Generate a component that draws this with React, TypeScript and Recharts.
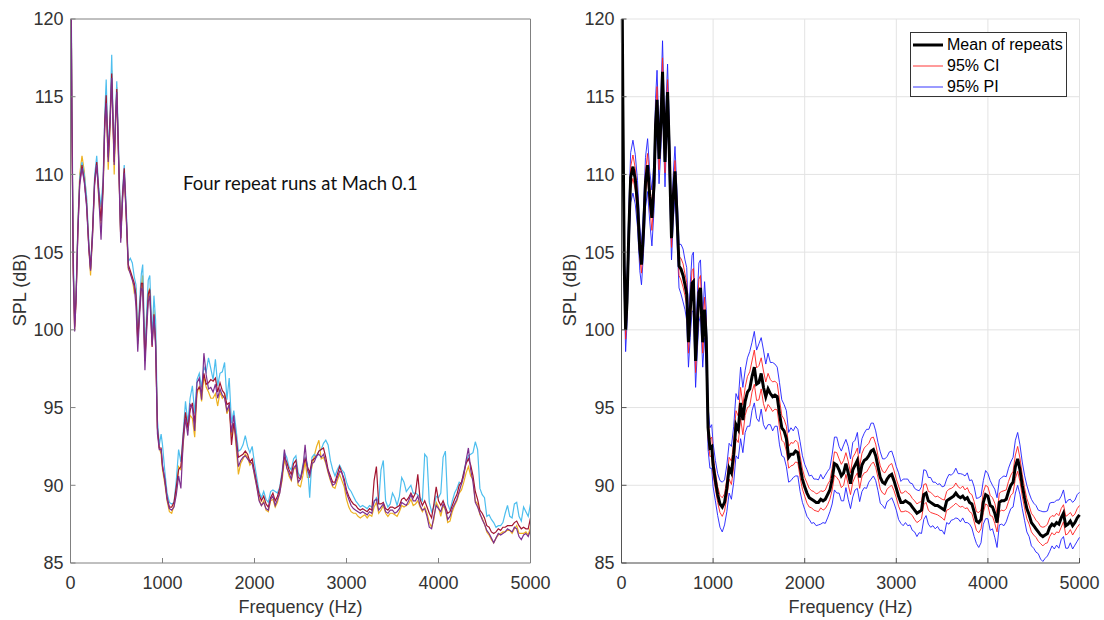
import React from 'react'
import { LineChart, Line, XAxis, YAxis, CartesianGrid, Legend } from 'recharts'

// frequency bins (Hz): denser below 1 kHz where the tonal peaks sit, 25 Hz above
const FREQ_LOW = [
  0, 15, 30, 45, 60, 80, 100, 125, 150, 175,
  200, 218, 240, 262, 285, 308, 332, 355, 372, 388,
  410, 430, 448, 462, 475, 490, 503, 520, 546, 565,
  584, 605, 628, 650, 672, 693, 712, 731, 750, 770,
  785, 809, 830, 845, 862, 887, 907, 925, 945, 965,
  985,
]
const FREQ = [...FREQ_LOW, ...Array.from({ length: 161 }, (_, i) => 1000 + i * 25)]

const X_TICKS = [0, 1000, 2000, 3000, 4000, 5000]
const Y_TICKS = [85, 90, 95, 100, 105, 110, 115, 120]

// left panel: four repeat runs (dB)
const RUN_A = [
  128, 115.5, 104.8, 100.6, 102.3, 106.8, 109.8, 110.8, 110.0, 108.6,
  105.6, 104.0, 106.5, 109.9, 111.2, 109.1, 107.9, 109.8, 113.8, 116.1,
  111.4, 113.8, 117.7, 113.9, 111.2, 113.9, 116.0, 112.4, 106.2, 108.9,
  110.6, 108.0, 104.4, 104.6, 104.3, 103.4, 102.9, 99.6, 101.7, 103.6,
  104.2, 98.6, 101.4, 103.2, 103.5, 99.5, 102.2, 100.6, 94.2, 92.6,
  93.3,
  92.6, 90.9, 89.5, 88.9, 88.8, 88.9, 90.3, 92.3, 91.5, 93.4,
  95.4, 94.0, 95.6, 96.4, 94.6, 96.8, 97.2, 96.3, 97.6, 97.3,
  98.2, 97.5, 96.8, 98.1, 96.4, 97.2, 97.3, 97.9, 95.5, 96.9,
  94.0, 94.8, 93.6, 92.2, 92.3, 92.6, 93.2, 92.5, 92.1, 92.5,
  91.4, 90.5, 89.6, 89.2, 89.6, 89.1, 88.9, 89.6, 89.7, 89.6,
  89.5, 89.9, 90.9, 92.1, 91.8, 91.2, 91.0, 91.7, 91.9, 90.8,
  90.5, 91.3, 91.8, 91.4, 89.2, 91.8, 92.0, 91.8, 92.2, 92.3,
  92.7, 92.9, 92.6, 91.6, 91.0, 90.6, 91.0, 91.3, 91.0, 90.8,
  90.2, 89.8, 89.6, 89.3, 89.0, 88.8, 88.6, 88.7, 88.6, 88.5,
  88.7, 88.6, 88.9, 89.2, 88.9, 91.0, 91.6, 89.0, 88.6, 88.8,
  89.5, 89.2, 88.7, 89.3, 90.5, 90.2, 89.6, 89.8, 90.0, 89.5,
  89.5, 89.4, 89.2, 89.0, 92.0, 91.8, 88.9, 88.3, 88.6, 89.3,
  89.2, 89.5, 91.8, 92.2, 88.8, 88.4, 89.0, 89.5, 89.8, 90.2,
  90.1, 90.9, 91.5, 91.9, 92.0, 92.1, 92.8, 92.3, 89.8, 89.4,
  89.2, 88.0, 88.1, 87.8, 87.6, 87.3, 87.4, 87.4, 87.6, 88.2,
  88.7, 88.0, 87.9, 88.8, 88.9, 88.0, 87.7, 88.6, 88.3, 88.0,
  88.8,
]
const RUN_B = [
  128, 114.5, 104.0, 100.0, 101.8, 106.6, 110.0, 111.2, 110.2, 108.3,
  105.2, 103.5, 106.2, 109.5, 110.8, 108.3, 106.8, 109.0, 113.0, 115.0,
  110.3, 113.0, 116.7, 113.3, 110.0, 113.1, 115.6, 111.6, 105.9, 108.5,
  110.1, 107.3, 103.9, 103.7, 103.3, 102.4, 102.6, 99.1, 101.3, 102.9,
  103.5, 98.2, 100.7, 102.4, 102.7, 99.2, 101.3, 99.3, 93.6, 92.4,
  92.0,
  91.0, 90.1, 89.0, 88.3, 88.2, 88.7, 89.6, 91.2, 91.0, 92.6,
  94.5, 93.5, 94.5, 94.3, 93.1, 95.9, 96.4, 95.4, 97.0, 96.3,
  96.0, 95.6, 95.6, 95.9, 95.1, 96.0, 95.6, 95.8, 94.6, 95.0,
  93.2, 94.0, 92.5, 90.7, 91.4, 91.7, 92.0, 91.8, 91.3, 91.5,
  90.6, 89.9, 89.1, 88.7, 89.0, 88.4, 88.3, 89.0, 89.1, 88.6,
  88.9, 89.6, 90.3, 91.6, 91.2, 90.6, 90.3, 91.0, 91.2, 90.0,
  89.9, 90.6, 91.5, 90.5, 90.5, 91.2, 91.9, 92.5, 92.9, 91.7,
  91.8, 91.4, 90.8, 90.3, 89.9, 89.8, 90.3, 90.7, 90.3, 89.9,
  89.1, 88.6, 88.3, 88.2, 88.2, 88.0, 87.9, 88.0, 88.1, 87.9,
  88.1, 88.0, 88.6, 88.9, 88.2, 88.4, 88.7, 88.2, 88.0, 88.2,
  88.2, 88.1, 88.0, 88.3, 88.7, 88.6, 88.7, 88.8, 89.1, 88.7,
  88.8, 89.0, 88.6, 88.3, 88.6, 88.2, 87.6, 87.3, 87.8, 88.9,
  88.6, 88.0, 88.7, 88.4, 87.6, 87.7, 88.3, 88.7, 89.0, 89.5,
  89.7, 90.2, 90.8, 91.2, 90.6, 90.4, 89.0, 88.8, 88.1, 87.9,
  87.5, 87.0, 86.8, 86.5, 86.3, 86.6, 86.8, 86.9, 87.0, 87.0,
  87.1, 87.1, 86.9, 87.2, 87.4, 86.9, 86.9, 86.9, 87.0, 86.8,
  87.3,
]
const RUN_C = [
  128, 113.5, 103.6, 99.9, 101.8, 106.2, 109.3, 110.4, 109.5, 107.9,
  105.1, 103.8, 106.0, 109.3, 110.6, 108.5, 105.8, 109.2, 112.9, 114.6,
  110.8, 113.2, 116.2, 113.2, 110.6, 113.4, 115.3, 111.5, 105.6, 108.2,
  110.1, 107.4, 104.0, 103.6, 103.2, 102.8, 101.5, 98.6, 100.8, 102.7,
  102.5, 97.4, 100.2, 101.8, 102.2, 99.0, 100.9, 98.9, 93.3, 92.3,
  92.3,
  91.3, 90.3, 89.1, 88.5, 88.4, 88.6, 89.4, 90.6, 89.8, 92.8,
  94.3, 93.2, 95.2, 95.0, 93.5, 96.6, 96.9, 95.5, 98.5, 97.1,
  96.2, 96.3, 96.0, 96.5, 95.6, 96.2, 95.8, 95.6, 94.8, 95.2,
  93.4, 94.5, 92.8, 91.2, 91.6, 91.8, 91.9, 91.7, 91.5, 91.4,
  90.7, 89.9, 89.0, 88.7, 88.9, 88.5, 88.4, 89.1, 89.3, 88.7,
  89.1, 89.5, 90.5, 92.3, 91.1, 90.8, 90.4, 91.1, 91.3, 90.2,
  90.4, 91.0, 92.6, 91.0, 90.6, 91.4, 91.5, 91.9, 92.0, 91.8,
  92.0, 91.5, 90.9, 90.4, 90.0, 90.1, 90.5, 90.9, 90.8, 90.2,
  89.5, 89.1, 88.7, 88.5, 88.4, 88.3, 88.2, 88.3, 88.2, 88.1,
  88.3, 88.2, 89.0, 89.1, 88.4, 88.6, 88.8, 88.3, 88.2, 88.4,
  88.4, 88.2, 88.3, 88.5, 88.9, 88.8, 88.7, 89.0, 89.4, 89.0,
  89.0, 89.3, 88.7, 88.4, 88.5, 88.0, 87.3, 87.2, 88.0, 88.7,
  88.5, 88.3, 88.8, 88.5, 87.8, 88.0, 88.5, 88.8, 89.1, 89.6,
  90.1, 90.6, 91.6, 92.4, 91.0, 90.2, 88.9, 88.6, 88.2, 87.8,
  87.5, 87.1, 86.9, 86.6, 86.3, 86.6, 86.9, 86.8, 86.9, 87.0,
  87.2, 87.1, 87.0, 87.3, 87.2, 86.7, 86.5, 86.8, 86.9, 86.7,
  87.1,
]
const RUN_D = [
  128, 114.0, 104.0, 100.2, 102.0, 106.4, 109.5, 110.6, 109.6, 108.1,
  105.3, 103.9, 106.4, 109.6, 110.8, 108.8, 107.0, 109.5, 113.4, 115.1,
  111.1, 113.6, 116.5, 113.6, 110.8, 113.6, 115.5, 111.8, 105.9, 108.6,
  110.4, 107.6, 104.2, 103.8, 103.4, 103.0, 102.2, 99.3, 101.2, 103.0,
  103.0, 98.0, 100.6, 102.3, 102.6, 98.9, 101.0, 99.2, 93.7, 92.4,
  92.4,
  91.2, 90.4, 89.2, 88.6, 88.6, 88.9, 89.9, 91.0, 91.2, 93.2,
  94.7, 93.7, 94.8, 95.3, 94.0, 96.1, 96.3, 96.0, 97.2, 96.5,
  96.6, 96.8, 96.7, 96.9, 96.0, 96.6, 96.1, 95.9, 95.2, 95.3,
  92.6, 94.0, 93.1, 91.8, 91.9, 92.0, 92.2, 92.0, 91.5, 91.7,
  90.9, 90.1, 89.4, 89.0, 89.3, 88.8, 88.6, 89.2, 89.5, 89.0,
  89.3, 89.8, 90.7, 91.8, 91.5, 91.0, 90.7, 91.4, 91.6, 90.5,
  90.4, 91.1, 91.7, 91.2, 90.8, 91.6, 91.7, 91.9, 92.2, 92.3,
  92.4, 91.8, 91.0, 90.6, 90.2, 90.2, 90.7, 91.2, 90.8, 90.4,
  89.7, 89.3, 89.0, 88.8, 88.7, 88.5, 88.4, 88.5, 88.4, 88.3,
  88.5, 88.4, 90.3, 91.2, 88.8, 88.8, 88.9, 88.5, 88.4, 88.6,
  88.6, 88.5, 88.6, 88.7, 89.1, 89.2, 89.0, 89.2, 89.5, 89.2,
  89.5, 90.7, 89.1, 88.7, 89.0, 88.6, 88.2, 87.9, 88.8, 89.9,
  89.0, 88.7, 89.0, 88.6, 88.2, 88.3, 88.7, 89.1, 89.4, 90.0,
  90.2, 90.8, 91.4, 91.7, 91.3, 90.6, 89.6, 89.1, 88.4, 88.2,
  87.9, 87.4, 87.3, 87.0, 86.9, 87.0, 87.2, 87.1, 87.3, 87.3,
  87.4, 87.4, 87.4, 87.6, 87.7, 87.4, 87.2, 87.3, 87.2, 87.2,
  87.9,
]

// right panel: mean of repeats and half-widths of the 95% intervals (dB)
const MEAN = [
  128, 114.5, 104.1, 100.0, 101.8, 106.3, 109.8, 110.5, 109.7, 108.1,
  105.2, 104.2, 106.3, 109.5, 110.6, 108.6, 107.2, 109.3, 113.2, 114.8,
  111.0, 113.3, 116.6, 113.5, 110.8, 113.5, 115.3, 111.9, 105.9, 108.5,
  110.2, 107.5, 104.1, 103.9, 103.5, 102.9, 102.3, 99.2, 101.2, 103.0,
  103.1, 98.0, 100.7, 102.4, 102.7, 99.2, 101.3, 99.5, 93.7, 92.4,
  92.5,
  91.3, 90.3, 89.4, 88.8, 88.6, 88.9, 89.8, 91.1, 90.8, 92.0,
  93.9, 93.6, 95.3, 94.2, 95.4, 96.0, 96.2, 97.0, 97.6, 96.5,
  96.6, 97.2, 96.3, 95.7, 96.2, 95.9, 95.7, 95.8, 95.7, 94.6,
  93.7, 93.5, 93.0, 91.8, 92.0, 92.0, 92.2, 92.1, 91.2, 90.4,
  89.9, 89.5, 89.2, 89.1, 89.0, 88.9, 88.9, 89.1, 89.0, 89.1,
  89.4, 89.7, 90.4, 91.4, 91.3, 91.0, 90.6, 90.8, 91.4, 90.8,
  90.1, 91.0, 91.3, 91.6, 90.5, 91.3, 91.6, 91.7, 91.9, 92.2,
  92.3, 91.9, 91.2, 90.5, 90.2, 90.1, 90.4, 90.6, 90.7, 90.3,
  89.8, 89.3, 88.9, 88.9, 89.0, 88.9, 88.8, 88.6, 88.4, 88.2,
  88.3, 88.4, 89.4, 89.5, 89.0, 88.9, 88.8, 88.7, 88.7, 88.6,
  88.5, 88.4, 89.0, 89.1, 89.2, 89.3, 89.5, 89.3, 89.2, 89.3,
  89.1, 89.2, 88.9, 88.8, 88.3, 87.7, 87.6, 87.8, 88.9, 89.4,
  89.3, 88.7, 88.6, 88.2, 87.6, 88.9, 89.0, 89.0, 89.1, 89.6,
  90.0, 90.2, 91.2, 91.7, 91.0, 90.0, 89.2, 88.5, 88.1, 87.6,
  87.4, 87.2, 87.0, 86.8, 86.7, 86.8, 86.9, 87.3, 87.5, 87.4,
  87.6, 87.5, 87.9, 88.2, 87.4, 87.5, 87.7, 87.4, 87.6, 87.9,
  88.1,
]
const CI_HALF = [
  0.8, 0.9, 0.7, 0.6, 0.6, 0.65, 0.7, 0.75, 0.7, 0.65,
  0.6, 0.55, 0.6, 0.7, 0.75, 0.7, 0.8, 0.7, 0.75, 0.85,
  0.7, 0.75, 0.9, 0.8, 0.7, 0.75, 0.8, 0.75, 0.6, 0.65,
  0.7, 0.65, 0.6, 0.7, 0.75, 0.7, 0.75, 0.7, 0.75, 0.8,
  0.85, 0.75, 0.8, 0.85, 0.8, 0.7, 0.8, 0.8, 0.6, 0.55,
  0.6,
  0.6, 0.55, 0.5, 0.55, 0.6, 0.55, 0.6, 0.7, 0.75, 0.8,
  0.9, 0.85, 1.0, 0.95, 0.9, 1.0, 1.1, 1.0, 1.1, 1.05,
  1.1, 1.0, 1.05, 0.95, 1.0, 0.9, 0.95, 0.9, 0.85, 0.9,
  0.8, 0.75, 0.8, 0.7, 0.75, 0.7, 0.7, 0.65, 0.7, 0.65,
  0.6, 0.65, 0.6, 0.55, 0.6, 0.55, 0.6, 0.55, 0.6, 0.6,
  0.65, 0.6, 0.7, 0.75, 0.8, 0.7, 0.75, 0.8, 0.7, 0.75,
  0.7, 0.8, 0.75, 0.8, 0.7, 0.75, 0.8, 0.85, 0.8, 0.85,
  0.8, 0.75, 0.7, 0.75, 0.7, 0.7, 0.65, 0.7, 0.7, 0.65,
  0.6, 0.65, 0.6, 0.6, 0.65, 0.6, 0.6, 0.55, 0.6, 0.6,
  0.6, 0.55, 0.65, 0.6, 0.6, 0.65, 0.6, 0.55, 0.6, 0.6,
  0.6, 0.65, 0.6, 0.65, 0.6, 0.6, 0.65, 0.6, 0.6, 0.65,
  0.6, 0.65, 0.6, 0.6, 0.65, 0.6, 0.65, 0.6, 0.65, 0.6,
  0.6, 0.65, 0.6, 0.65, 0.6, 0.6, 0.6, 0.65, 0.6, 0.65,
  0.65, 0.7, 0.75, 0.8, 0.75, 0.7, 0.65, 0.65, 0.6, 0.6,
  0.6, 0.55, 0.6, 0.55, 0.6, 0.55, 0.6, 0.6, 0.55, 0.6,
  0.6, 0.55, 0.6, 0.55, 0.6, 0.6, 0.55, 0.6, 0.55, 0.6,
  0.6,
]
const PI_HALF = [
  1.8, 2.0, 1.6, 1.4, 1.4, 1.5, 1.6, 1.7, 1.6, 1.5,
  1.4, 1.3, 1.4, 1.6, 1.7, 1.6, 1.8, 1.6, 1.7, 1.9,
  1.6, 1.7, 2.0, 1.8, 1.6, 1.7, 1.8, 1.7, 1.4, 1.5,
  1.6, 1.5, 1.4, 1.6, 1.7, 1.6, 1.7, 1.6, 1.7, 1.8,
  1.9, 1.7, 1.8, 1.9, 1.8, 1.6, 1.8, 1.8, 1.4, 1.3,
  1.4,
  1.4, 1.3, 1.35, 1.5, 1.6, 1.45, 1.5, 1.6, 1.7, 1.8,
  2.0, 1.9, 2.3, 2.1, 2.0, 2.2, 2.4, 2.2, 2.3, 2.2,
  2.5, 2.3, 2.4, 2.1, 2.3, 2.0, 2.2, 2.0, 1.9, 2.0,
  1.8, 1.7, 1.8, 1.6, 1.7, 1.5, 1.6, 1.5, 1.6, 1.5,
  1.45, 1.5, 1.4, 1.55, 1.4, 1.5, 1.45, 1.6, 1.4, 1.55,
  1.5, 1.4, 1.6, 1.7, 1.8, 1.5, 1.6, 1.8, 1.55, 1.7,
  1.6, 1.75, 1.6, 1.8, 1.55, 1.7, 1.75, 1.9, 1.7, 1.8,
  1.7, 1.6, 1.55, 1.65, 1.5, 1.6, 1.45, 1.55, 1.5, 1.45,
  1.4, 1.5, 1.35, 1.5, 1.4, 1.5, 1.35, 1.5, 1.4, 1.5,
  1.35, 1.5, 1.6, 1.45, 1.5, 1.6, 1.4, 1.5, 1.35, 1.5,
  1.4, 1.55, 1.4, 1.6, 1.45, 1.5, 1.6, 1.45, 1.55, 1.4,
  1.5, 1.6, 1.4, 1.55, 1.6, 1.45, 1.6, 1.5, 1.4, 1.55,
  1.45, 1.6, 1.4, 1.55, 1.6, 1.45, 1.5, 1.6, 1.45, 1.5,
  1.5, 1.6, 1.7, 1.7, 1.6, 1.5, 1.45, 1.5, 1.4, 1.5,
  1.45, 1.5, 1.4, 1.55, 1.6, 1.5, 1.45, 1.55, 1.4, 1.5,
  1.45, 1.55, 1.4, 1.5, 1.45, 1.55, 1.4, 1.5, 1.45, 1.5,
  1.45,
]

const runsData = FREQ.map((f, i) => ({ f, a: RUN_A[i], b: RUN_B[i], c: RUN_C[i], d: RUN_D[i] }))
const statsData = FREQ.map((f, i) => ({
  f,
  mean: MEAN[i],
  ciHi: MEAN[i] + CI_HALF[i],
  ciLo: MEAN[i] - CI_HALF[i],
  piHi: MEAN[i] + PI_HALF[i],
  piLo: MEAN[i] - PI_HALF[i],
}))

const LEGEND_ORDER = ['Mean of repeats', '95% CI', '95% PI']

const FONT = '"Liberation Sans", Arial, sans-serif'
const TICK = { fill: '#333', fontSize: 18, fontFamily: FONT }
const BOX = '#808080'

function YLabel({ x }: { x: number }) {
  return (
    <text x={x} y={290} transform={`rotate(-90 ${x} 290)`} textAnchor="middle" dominantBaseline="central"
      fill="#333" fontSize={18} fontFamily={FONT}>
      SPL (dB)
    </text>
  )
}

function XLabel({ x }: { x: number }) {
  return (
    <text x={x} y={607} textAnchor="middle" dominantBaseline="central" fill="#333" fontSize={18} fontFamily={FONT}>
      Frequency (Hz)
    </text>
  )
}

type LegendItem = { value: string; color: string; type?: string; payload?: { strokeWidth?: number } }

function StatsLegend({ payload }: { payload?: LegendItem[] }) {
  if (!payload?.length) return null
  const items = LEGEND_ORDER.map((name) => payload.find((p) => p.value === name && p.type !== 'none')).filter(Boolean) as LegendItem[]
  return (
    <div style={{ width: 157, height: 65, boxSizing: 'border-box', border: '1px solid #333', background: '#fff', paddingTop: 1 }}>
      {items.map((p) => (
        <div key={p.value} style={{ display: 'flex', alignItems: 'center', height: 21 }}>
          <svg width={34} height={10} style={{ marginLeft: 2, flex: 'none' }}>
            <line x1={0} x2={30} y1={5} y2={5} stroke={p.color} strokeWidth={p.payload?.strokeWidth ?? 1} />
          </svg>
          <span style={{ fontFamily: FONT, fontSize: 16, color: '#000', lineHeight: '21px', whiteSpace: 'nowrap' }}>{p.value}</span>
        </div>
      ))}
    </div>
  )
}

function RunsPanel() {
  return (
    <LineChart width={560} height={620} data={runsData} margin={{ top: 18, right: 28.5, bottom: 56, left: 69.5 }}>
      <XAxis dataKey="f" type="number" domain={[0, 5000]} ticks={X_TICKS} interval={0} height={1}
        tickSize={-5} tickMargin={18} axisLine={{ stroke: BOX }} tickLine={{ stroke: BOX }} tick={TICK}
        label={() => <XLabel x={300.5} />} />
      <XAxis xAxisId="top" orientation="top" dataKey="f" type="number" domain={[0, 5000]} ticks={X_TICKS}
        interval={0} height={1} tickSize={-5} tick={false} axisLine={{ stroke: BOX }} tickLine={{ stroke: BOX }} />
      <YAxis type="number" domain={[85, 120]} ticks={Y_TICKS} interval={0} width={1} allowDataOverflow
        tickSize={-5} tickMargin={12} axisLine={{ stroke: BOX }} tickLine={{ stroke: BOX }} tick={TICK}
        label={() => <YLabel x={20} />} />
      <YAxis yAxisId="right" orientation="right" type="number" domain={[85, 120]} ticks={Y_TICKS} interval={0}
        width={1} tickSize={-5} tick={false} axisLine={{ stroke: BOX }} tickLine={{ stroke: BOX }} />
      <Line dataKey="b" stroke="#EDB120" strokeWidth={1.2} dot={false} activeDot={false} isAnimationActive={false} />
      <Line dataKey="a" stroke="#4DBEEE" strokeWidth={1.2} dot={false} activeDot={false} isAnimationActive={false} />
      <Line dataKey="d" stroke="#A2142F" strokeWidth={1.2} dot={false} activeDot={false} isAnimationActive={false} />
      <Line dataKey="c" stroke="#7E2F8E" strokeWidth={1.2} dot={false} activeDot={false} isAnimationActive={false} />
      <text x={183} y={190} fill="#111" fontSize={18.5} fontFamily="Lato, 'Open Sans', sans-serif">
        Four repeat runs at Mach 0.1
      </text>
    </LineChart>
  )
}

function StatsPanel() {
  return (
    <LineChart width={544} height={620} data={statsData} margin={{ top: 19, right: 24.5, bottom: 56, left: 60.5 }}>
      <CartesianGrid stroke="#e3e3e3" />
      <XAxis dataKey="f" type="number" domain={[0, 5000]} ticks={X_TICKS} interval={0} height={1}
        tickSize={-5} tickMargin={18} axisLine={{ stroke: '#555' }} tickLine={{ stroke: '#555' }} tick={TICK}
        label={() => <XLabel x={290.5} />} />
      <YAxis type="number" domain={[85, 120]} ticks={Y_TICKS} interval={0} width={1} allowDataOverflow
        tickSize={-5} tickMargin={12} axisLine={{ stroke: '#555' }} tickLine={{ stroke: '#555' }} tick={TICK}
        label={() => <YLabel x={10} />} />
      <Legend layout="vertical" align="center" verticalAlign="middle"
        wrapperStyle={{ position: 'absolute', left: 350, top: 32, width: 157 }}
        content={<StatsLegend />} />
      <Line dataKey="piHi" name="95% PI" stroke="#1f1fff" strokeWidth={0.9} dot={false} activeDot={false}
        isAnimationActive={false} legendType="none" />
      <Line dataKey="piLo" name="95% PI" stroke="#1f1fff" strokeWidth={0.9} dot={false} activeDot={false}
        isAnimationActive={false} />
      <Line dataKey="ciHi" name="95% CI" stroke="#ff1f1f" strokeWidth={0.9} dot={false} activeDot={false}
        isAnimationActive={false} legendType="none" />
      <Line dataKey="ciLo" name="95% CI" stroke="#ff1f1f" strokeWidth={0.9} dot={false} activeDot={false}
        isAnimationActive={false} />
      <Line dataKey="mean" name="Mean of repeats" stroke="#000" strokeWidth={3} dot={false} activeDot={false}
        isAnimationActive={false} />
    </LineChart>
  )
}

export default function App() {
  return (
    <div style={{ position: 'absolute', left: 0, top: 0, width: 1104, height: 620, background: '#fff' }}>
      <div style={{ position: 'absolute', left: 0, top: 0 }}>
        <RunsPanel />
      </div>
      <div style={{ position: 'absolute', left: 560, top: 0 }}>
        <StatsPanel />
      </div>
    </div>
  )
}
